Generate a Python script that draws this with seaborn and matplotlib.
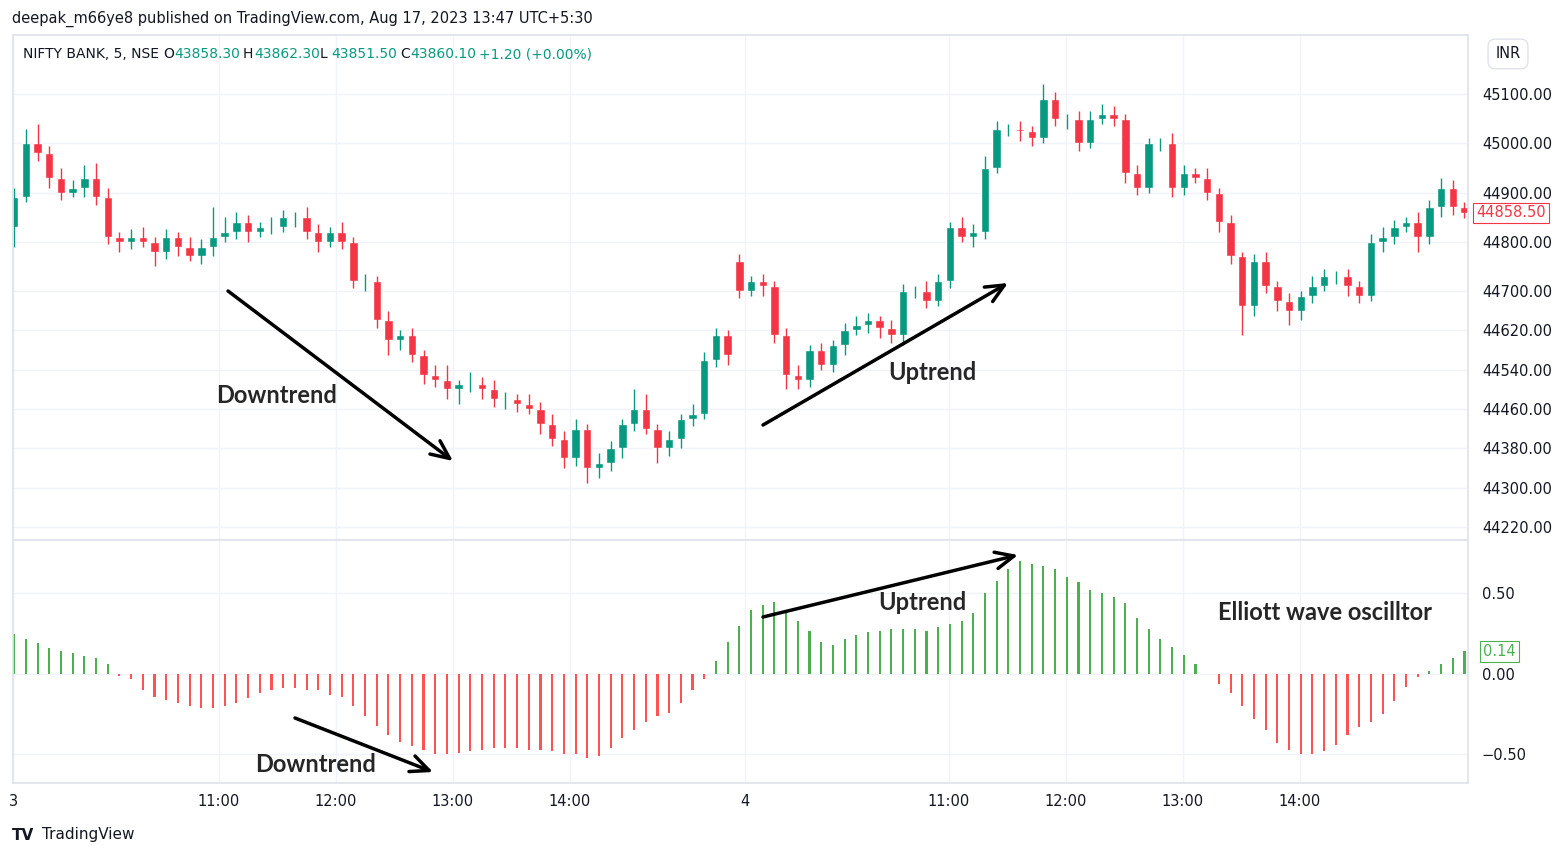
import numpy as np
import pandas as pd
import seaborn as sns
import matplotlib.pyplot as plt

closes = [44890,45000,44980,44930,44900,44910,44930,44890,44810,44800,
          44810,44800,44780,44810,44790,44770,44790,44810,44820,44840,
          44820,44830,44830,44850,44850,44820,44800,44820,44800,44720,
          44720,44640,44600,44610,44570,44530,44520,44500,44510,44510,
          44500,44480,44480,44470,44460,44430,44400,44360,44420,44340,
          44350,44380,44430,44460,44420,44380,44400,44440,44450,44560,
          44610,44570,44700,44720,44710,44610,44530,44520,44580,44550,
          44590,44620,44630,44640,44625,44610,44700,44700,44680,44720,
          44830,44810,44820,44950,45030,45030,45025,45010,45090,45050,
          45050,45000,45050,45060,45050,44940,44910,45000,45000,44910,
          44940,44930,44900,44840,44770,44670,44760,44710,44680,44660,
          44690,44710,44730,44730,44710,44690,44800,44810,44830,44840,
          44810,44870,44910,44870,44858.5]
opens = [44830,44890,45000,44980,44930,44900,44910,44930,44890,44810,
         44800,44810,44800,44780,44810,44790,44770,44790,44810,44820,
         44840,44820,44830,44830,44850,44850,44820,44800,44820,44800,
         44720,44720,44640,44600,44610,44570,44530,44520,44500,44510,
         44510,44500,44480,44480,44470,44460,44430,44400,44360,44420,
         44340,44350,44380,44430,44460,44420,44380,44400,44440,44450,
         44560,44610,44760,44700,44720,44710,44610,44530,44520,44580,
         44550,44590,44620,44630,44640,44625,44610,44700,44700,44680,
         44720,44830,44810,44820,44950,45030,45030,45025,45010,45090,
         45050,45050,45000,45050,45060,45050,44940,44910,45000,45000,
         44910,44940,44930,44900,44840,44770,44670,44760,44710,44680,
         44660,44690,44710,44730,44730,44710,44690,44800,44810,44830,
         44840,44810,44870,44910,44870]
upper_wick = [20,30,40,15,20,15,25,30,20,10, 15,20,10,15,10,20,15,60,30,20,
              15,10,20,15,10,20,15,10,20,10, 15,10,20,10,15,10,20,30,10,25,
              15,20,15,10,20,15,20,15,20,10, 20,15,10,40,30,10,15,10,20,15,
              15,10,15,10,15,10,15,20,10,15, 10,15,20,15,10,15,15,10,20,15,
              10,20,15,25,15,10,15,10,30,15, 10,15,15,20,15,10,15,10,10,20,
              15,10,20,10,15,10,15,20,10,15, 10,20,15,10,15,10,15,20,15,10,
              20,15,20,15,10]
lower_wick = [40,10,15,20,15,10,20,15,15,20, 15,10,30,15,20,10,15,20,10,15,
              20,10,15,10,20,15,20,10,15,15, 20,15,30,20,15,20,15,20,30,15,
              20,15,20,15,10,20,15,20,15,30, 20,15,20,15,10,30,15,20,15,10,
              15,20,15,10,20,15,30,20,15,10, 15,20,10,15,20,15,20,15,15,10,
              15,10,20,15,10,15,20,15,10,15, 20,15,10,10,15,20,15,10,15,20,
              15,10,15,20,15,60,20,15,20,30, 20,15,10,15,20,15,10,20,15,10,
              30,15,20,15,10]
osc = [0.25,0.22,0.19,0.16,0.14,0.13,0.11,0.10,0.06,-0.01,
       -0.03,-0.10,-0.14,-0.16,-0.18,-0.20,-0.21,-0.21,-0.20,-0.18,
       -0.15,-0.12,-0.10,-0.09,-0.09,-0.10,-0.10,-0.13,-0.14,-0.20,
       -0.26,-0.32,-0.38,-0.42,-0.45,-0.47,-0.50,-0.50,-0.49,-0.48,
       -0.47,-0.46,-0.46,-0.46,-0.47,-0.47,-0.48,-0.50,-0.50,-0.52,
       -0.51,-0.46,-0.40,-0.35,-0.30,-0.26,-0.24,-0.18,-0.10,-0.03,
       0.08,0.20,0.30,0.40,0.43,0.45,0.40,0.33,0.27,0.20,
       0.18,0.22,0.24,0.26,0.27,0.28,0.28,0.28,0.27,0.29,
       0.31,0.33,0.38,0.50,0.58,0.65,0.70,0.68,0.67,0.65,
       0.60,0.57,0.52,0.50,0.48,0.44,0.35,0.28,0.22,0.17,
       0.12,0.06,0.00,-0.06,-0.12,-0.20,-0.28,-0.35,-0.43,-0.47,
       -0.50,-0.50,-0.48,-0.44,-0.38,-0.33,-0.30,-0.25,-0.17,-0.08,
       -0.02,0.02,0.06,0.10,0.14]

time_pos = [-0.1, 17.5, 27.5, 37.5, 47.5, 62.5, 79.9, 89.9, 99.9, 109.9]
time_labels = ["3", "11:00", "12:00", "13:00", "14:00", "4", "11:00", "12:00", "13:00", "14:00"]
price_ticks = [45100, 45000, 44900, 44800, 44700, 44620, 44540, 44460, 44380, 44300, 44220]
osc_ticks = [0.5, 0.0, -0.5]

GREEN, RED = "#089981", "#F23645"
OG, OR = "#4CAF50", "#FF5252"

df = pd.DataFrame({"i": np.arange(len(closes)), "o": opens, "c": closes,
                   "h": np.maximum(opens, closes) + np.array(upper_wick),
                   "l": np.minimum(opens, closes) - np.array(lower_wick),
                   "osc": osc})
df["up"] = df["c"] >= df["o"]
df["sign"] = np.where(df["osc"] >= 0, "pos", "neg")

sns.set_theme(style="white")
W, H = 1563, 857
fig = plt.figure(figsize=(W/100, H/100), dpi=100)
L, R = 13/W, 1468/W
ax = fig.add_axes([L, 1-540/H, R-L, (540-35)/H])
ax2 = fig.add_axes([L, 1-783/H, R-L, (783-540)/H])

cols = np.where(df["up"], GREEN, RED)
ax.vlines(df["i"], df["l"], df["h"], colors=cols, lw=1)
ax.bar(df["i"], (df["c"]-df["o"]).abs().clip(lower=2), bottom=np.minimum(df["o"], df["c"]),
       color=cols, width=0.72)
ax.set_ylim(44194, 45220)

sns.barplot(data=df, x="i", y="osc", hue="sign", palette={"pos": OG, "neg": OR},
            native_scale=True, width=0.18, legend=False, ax=ax2, saturation=1,
            linewidth=0)
ax2.set_ylim(-0.677, 0.832)
ax2.set_xlabel(""); ax2.set_ylabel("")

for a, ticks in [(ax, price_ticks), (ax2, osc_ticks)]:
    a.yaxis.tick_right()
    a.set_yticks(ticks)
    a.set_yticklabels([("−" if t < 0 else "") + "{:.2f}".format(abs(t)) for t in ticks],
                      fontsize=10.5, color="#131722")
    a.tick_params(axis="y", length=0, pad=10)
    a.set_xticks(time_pos)
    a.grid(True, color="#F0F3FA", lw=1)
    for s in a.spines.values():
        s.set_color("#E0E3EB")
    a.set_autoscalex_on(False)
    a.set_xlim(-0.1, 124.3)
ax.tick_params(axis="x", labelbottom=False, length=0)
ax2.set_xticklabels(time_labels, fontsize=10.5, color="#131722")
ax2.tick_params(axis="x", length=0, pad=8)

ax.text(125, 44858.5, "44858.50", color=RED, fontsize=10.5, va="center",
        ha="left", clip_on=False,
        bbox=dict(boxstyle="square,pad=0.2", fc="white", ec=RED, lw=0.8))
ax2.text(125.6, 0.14, "0.14", color=OG, fontsize=10.5, va="center", ha="left", clip_on=False,
         bbox=dict(boxstyle="square,pad=0.2", fc="white", ec=OG, lw=0.8))

fig.text(12/W, 1-19/H, "deepak_m66ye8 published on TradingView.com, Aug 17, 2023 13:47 UTC+5:30",
         fontsize=10.5, va="center", color="#131722")
fig.text(23/W, 1-54/H, "NIFTY BANK, 5, NSE", fontsize=10, va="center", color="#131722")
hdr = [("O", 163), ("43858.30", 174), ("H", 243), ("43862.30", 254), ("L", 320), ("43851.50", 331),
       ("C", 400), ("43860.10", 410), ("+1.20 (+0.00%)", 479)]
for t, x in hdr:
    fig.text(x/W, 1-54/H, t, fontsize=10, va="center",
             color="#131722" if len(t) == 1 else GREEN)
fig.text(1508/W, 1-54/H, "INR", fontsize=10.5, va="center", ha="center", color="#131722",
         bbox=dict(boxstyle="round,pad=0.5", fc="white", ec="#E0E3EB"))
fig.text(12/W, 1-835/H, "TV", fontsize=11, fontweight="bold", va="center", color="#131722")
fig.text(42/W, 1-835/H, "TradingView", fontsize=11, va="center", color="#131722")

arrows = [((228, 291), (453, 461)), ((763, 425), (1008, 283)),
          ((763, 617), (1018, 555)), ((295, 718), (433, 772))]
for (x0, y0), (x1, y1) in arrows:
    ann = fig.add_artist(plt.Annotation("", xy=(x1, H-y1), xytext=(x0, H-y0),
                         xycoords="figure pixels", textcoords="figure pixels",
                         arrowprops=dict(arrowstyle="->,head_length=1.1,head_width=0.5",
                                         lw=2.5, color="black", shrinkA=0, shrinkB=0)))
    ann.set_zorder(10)
labels = [("Downtrend", 277, 395), ("Uptrend", 932, 373), ("Uptrend", 922, 602),
          ("Downtrend", 316, 765), ("Elliott wave oscilltor", 1325, 612)]
for t, x, y in labels:
    fig.text(x/W, 1-y/H, t, fontsize=17, fontweight="bold", family="Lato", ha="center",
             va="center", zorder=11)

fig.savefig("out.png", dpi=100)
